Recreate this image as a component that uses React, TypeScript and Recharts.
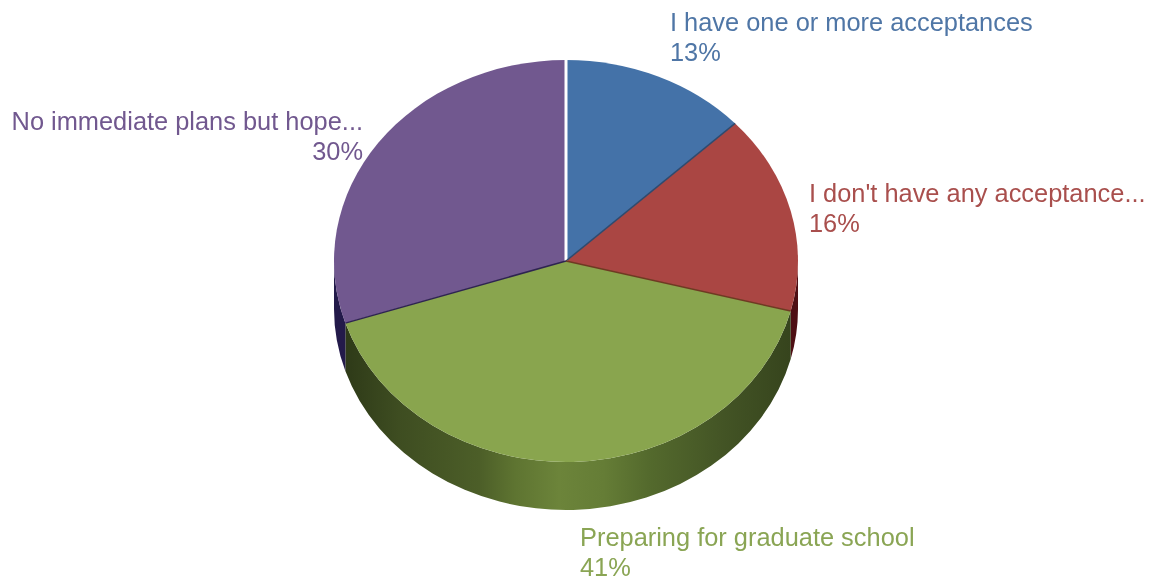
import React from 'react';
import { PieChart, Pie } from 'recharts';

const LABELS = [
  'I have one or more acceptances',
  "I don't have any acceptance...",
  'Preparing for graduate school',
  'No immediate plans but hope...',
];
const VALUES = [13, 16, 41, 30];

const TOP_COLORS = ['#4472A8', '#AA4643', '#89A54E', '#71588F'];
const TEXT_COLORS = ['#4F76A6', '#A94F4D', '#8AA554', '#71588F'];
const EDGE_COLORS = ['#FFFFFF', '#2F4A6E', '#6E3A22', '#2E2450'];
const WALL_FILLS = ['#2F4A6E', '#4E0F14', 'url(#greenWall)', '#231A4A'];

const CX = 566;
const CY = 261;
const RX = 232;
const RY = 201;
const DEPTH = 48;

// label anchor points, top line baseline
const LABEL_POS = [
  { x: 670, y: 31, anchor: 'start' },
  { x: 809, y: 202, anchor: 'start' },
  { x: 580, y: 546, anchor: 'start' },
  { x: 363, y: 130, anchor: 'end' },
];

const pt = (deg: number, dy = 0) => {
  const r = (deg * Math.PI) / 180;
  return { x: CX + RX * Math.cos(r), y: CY + dy - RY * Math.sin(r) };
};

const TopSlice = (props: any) => {
  const { startAngle, endAngle, index } = props;
  const a = pt(startAngle);
  const b = pt(endAngle);
  const large = Math.abs(startAngle - endAngle) > 180 ? 1 : 0;
  return (
    <g>
      <path
        d={`M${CX},${CY} L${a.x},${a.y} A${RX},${RY} 0 ${large} 1 ${b.x},${b.y} Z`}
        fill={TOP_COLORS[index]}
        stroke="none"
      />
    </g>
  );
};

// radial edge goes on after all fills, so no slice paints over it
const SliceEdge = (props: any) => {
  const { startAngle, index } = props;
  const a = pt(startAngle);
  return (
    <line
      x1={CX}
      y1={CY}
      x2={a.x}
      y2={a.y}
      stroke={EDGE_COLORS[index]}
      strokeWidth={index === 0 ? 3 : 1.5}
    />
  );
};

const WallSlice = (props: any) => {
  const { startAngle, endAngle, index } = props;
  const s = Math.min(startAngle, 0);
  const e = Math.max(endAngle, -180);
  if (s <= e) return <g />;
  const a = pt(s);
  const b = pt(e);
  const c = pt(e, DEPTH);
  const d = pt(s, DEPTH);
  return (
    <path
      d={`M${a.x},${a.y} A${RX},${RY} 0 0 1 ${b.x},${b.y} L${c.x},${c.y} A${RX},${RY} 0 0 0 ${d.x},${d.y} Z`}
      fill={WALL_FILLS[index]}
      stroke="none"
    />
  );
};

const renderLabel = (props: any) => {
  const { index } = props;
  const pos = LABEL_POS[index];
  return (
    <text
      key={index}
      textAnchor={pos.anchor}
      fill={TEXT_COLORS[index]}
      fontFamily="'Liberation Sans', Arial, sans-serif"
      fontSize={25.4}
    >
      <tspan x={pos.x} y={pos.y}>{LABELS[index]}</tspan>
      <tspan x={pos.x} y={pos.y + 30}>{VALUES[index]}%</tspan>
    </text>
  );
};

const pieData = LABELS.map((name, i) => ({ name, value: VALUES[i] }));

export default function App() {
  return (
    <div style={{ position: 'absolute', left: 0, top: 0, width: 1158, height: 577, background: '#fff', filter: 'blur(0.4px)' }}>
      <PieChart width={1158} height={577} margin={{ top: 0, right: 0, bottom: 0, left: 0 }}>
        <defs>
          <linearGradient id="greenWall" x1="0" y1="0" x2="1" y2="0">
            <stop offset="0" stopColor="#2E3A18" />
            <stop offset="0.12" stopColor="#3E4D21" />
            <stop offset="0.3" stopColor="#4C5E28" />
            <stop offset="0.38" stopColor="#5E7431" />
            <stop offset="0.48" stopColor="#6C843A" />
            <stop offset="0.58" stopColor="#657D36" />
            <stop offset="0.68" stopColor="#546A2D" />
            <stop offset="0.85" stopColor="#435425" />
            <stop offset="1" stopColor="#36441D" />
          </linearGradient>
        </defs>
        <Pie
          data={pieData}
          dataKey="value"
          cx={CX}
          cy={CY}
          outerRadius={RX}
          startAngle={90}
          endAngle={-270}
          shape={WallSlice}
          isAnimationActive={false}
          label={false}
          labelLine={false}
        />
        <Pie
          data={pieData}
          dataKey="value"
          cx={CX}
          cy={CY}
          outerRadius={RX}
          startAngle={90}
          endAngle={-270}
          shape={TopSlice}
          isAnimationActive={false}
          label={false}
          labelLine={false}
        />
        <Pie
          data={pieData}
          dataKey="value"
          cx={CX}
          cy={CY}
          outerRadius={RX}
          startAngle={90}
          endAngle={-270}
          shape={SliceEdge}
          isAnimationActive={false}
          label={renderLabel}
          labelLine={false}
        />
      </PieChart>
    </div>
  );
}
